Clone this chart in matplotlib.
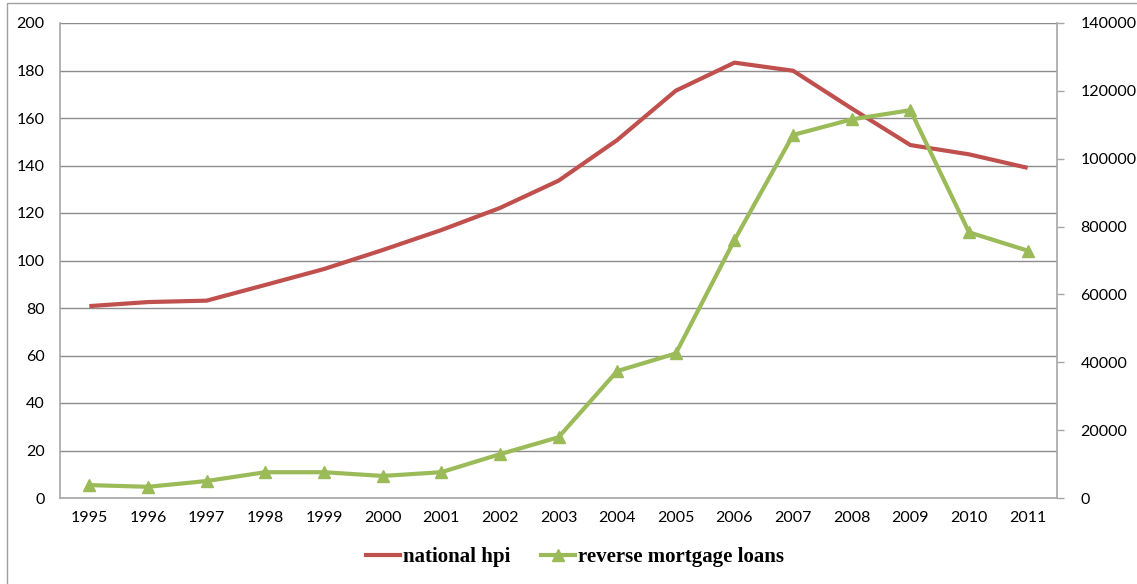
import matplotlib
matplotlib.use("Agg")
import matplotlib.pyplot as plt
from matplotlib.patches import Rectangle
from matplotlib.lines import Line2D

years = ["1995", "1996", "1997", "1998", "1999", "2000", "2001", "2002", "2003",
         "2004", "2005", "2006", "2007", "2008", "2009", "2010", "2011"]
national_hpi = [80.8, 82.5, 83.1, 89.7, 96.4, 104.4, 112.8, 122.1, 133.6,
                150.7, 171.5, 183.3, 179.9, 164.0, 148.6, 144.7, 139.0]
reverse_mortgage_loans = [3800, 3300, 5000, 7600, 7600, 6500, 7600, 12900, 17900,
                          37400, 42600, 76000, 107000, 111600, 114300, 78300, 72900]
left_ticks = list(range(0, 201, 20))
right_ticks = list(range(0, 140001, 20000))

RED = "#C0504D"
GREEN = "#9BBB59"
GRID = "#8C8C8C"
AXIS = "#A6A6A6"
TICKFONT = "Lato"
TS = 11.5

W, H = 1137, 584
fig = plt.figure(figsize=(W / 100, H / 100), dpi=100)
fig.patch.set_facecolor("white")

# outer frame
fig.patches.append(Rectangle((7 / W, -0.1), 1.2, (H - 3) / H + 0.1,
                             transform=fig.transFigure, fill=False,
                             edgecolor="#A0A0A0", linewidth=1.0))

ax = fig.add_axes([60 / W, 1 - 498 / H, (1057 - 60) / W, (498 - 23) / H])
x = list(range(len(years)))
ax.plot(x, national_hpi, color=RED, linewidth=3, solid_capstyle="butt", zorder=3)
ax.set_xlim(-0.5, len(years) - 0.5)
ax.set_ylim(0, 200)
ax.set_yticks(left_ticks)
ax.set_xticks(x)
ax.set_xticklabels(years)
ax.grid(axis="y", color=GRID, linewidth=1.0)
ax.set_axisbelow(True)
for s in ["top", "right"]:
    ax.spines[s].set_visible(False)
for s in ["left", "bottom"]:
    ax.spines[s].set_color(AXIS)
    ax.spines[s].set_linewidth(1.2)
ax.tick_params(axis="y", length=0, pad=11, labelsize=TS)
ax.tick_params(axis="x", length=0, pad=9, labelsize=TS)
for lab in ax.get_xticklabels() + ax.get_yticklabels():
    lab.set_fontfamily(TICKFONT)

ax2 = ax.twinx()
ax2.plot(x, reverse_mortgage_loans, color=GREEN, linewidth=3, marker="^",
         markersize=9, markeredgecolor=GREEN, zorder=3)
ax2.set_ylim(0, 140000)
ax2.set_yticks(right_ticks)
for s in ["top", "left", "bottom"]:
    ax2.spines[s].set_visible(False)
ax2.spines["right"].set_color(AXIS)
ax2.spines["right"].set_linewidth(1.2)
ax2.tick_params(axis="y", length=5, width=1, color=AXIS, pad=12, labelsize=TS)
for lab in ax2.get_yticklabels():
    lab.set_fontfamily(TICKFONT)

handles = [Line2D([], [], color=RED, linewidth=3),
           Line2D([], [], color=GREEN, linewidth=3, marker="^", markersize=9)]
fig.legend(handles, ["national hpi", "reverse mortgage loans"],
           loc="center", bbox_to_anchor=(575 / W, 1 - 557 / H), ncol=2,
           frameon=False, handlelength=1.6, handletextpad=0.15, columnspacing=1.5,
           prop={"family": "Liberation Serif", "weight": "bold", "size": 15})

fig.savefig("out.png", dpi=100)
